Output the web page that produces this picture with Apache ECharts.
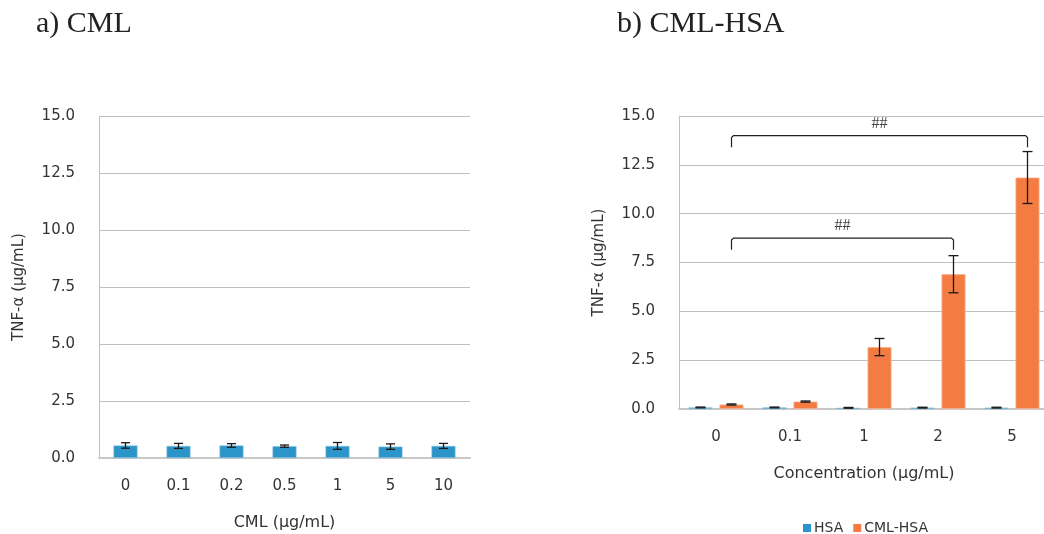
<!DOCTYPE html>
<html>
<head>
<meta charset="utf-8">
<script src="https://cdn.jsdelivr.net/npm/echarts@6/dist/echarts.min.js"></script>
<style>
  html, body { margin: 0; padding: 0; background: #fff; }
  #chart { width: 1044px; height: 534px; }
</style>
</head>
<body>
<div id="chart"></div>
<script>
// a) CML
const cmlCats = ['0', '0.1', '0.2', '0.5', '1', '5', '10']
const cmlVals = [0.55, 0.53, 0.55, 0.52, 0.53, 0.5, 0.53]
const cmlErr = [0.12, 0.11, 0.08, 0.05, 0.15, 0.12, 0.11]

// b) CML-HSA
const concCats = ['0', '0.1', '1', '2', '5']
const hsaVals = [0.08, 0.08, 0.06, 0.07, 0.07]
const hsaErr = [0.02, 0.02, 0.02, 0.02, 0.02]
const cmlHsaVals = [0.23, 0.38, 3.17, 6.9, 11.85]
const cmlHsaErr = [0.03, 0.03, 0.44, 0.95, 1.33]

// significance brackets: [from cat, to cat, leg bottom, top, label]
const brackets = [
  [0, 4, 13.4, 14.0, '##'],
  [0, 3, 8.15, 8.75, '##']
]

const BLUE = '#2b94c8'
const ORANGE = '#f47c42'
const TXT = '#333'
const FONT = 'DejaVu Sans'
const BAR_W = 24
const BAR_GAP_PX = 7

const chart = echarts.init(document.getElementById('chart'))

function errRender(offset, cap) {
  return function (params, api) {
    const x = api.value(0), v = api.value(1), e = api.value(2)
    const hi = api.coord([x, v + e])
    const lo = api.coord([x, v - e])
    const cx = hi[0] + offset
    const st = { stroke: '#1a1a1a', lineWidth: 1.3 }
    return {
      type: 'group',
      children: [
        { type: 'line', shape: { x1: cx, y1: hi[1], x2: cx, y2: lo[1] }, style: st },
        { type: 'line', shape: { x1: cx - cap, y1: hi[1], x2: cx + cap, y2: hi[1] }, style: st },
        { type: 'line', shape: { x1: cx - cap, y1: lo[1], x2: cx + cap, y2: lo[1] }, style: st }
      ]
    }
  }
}

function bracketRender(offset) {
  return function (params, api) {
    const a = api.coord([api.value(0), api.value(3)])
    const b = api.coord([api.value(1), api.value(3)])
    const bot = api.coord([api.value(0), api.value(2)])
    const x1 = a[0] + offset, x2 = b[0] + offset
    return {
      type: 'group',
      children: [
        {
          type: 'polyline',
          shape: { points: [[x1, bot[1]], [x1, a[1] + 2], [x1 + 2, a[1]], [x2 - 2, a[1]], [x2, a[1] + 2], [x2, bot[1]]] },
          style: { stroke: '#222', lineWidth: 1.2, fill: null }
        },
        {
          type: 'text',
          x: (x1 + x2) / 2, y: a[1] - 4,
          style: { text: api.value(4), font: '16px "Liberation Serif"', fill: '#444', align: 'center', verticalAlign: 'bottom' }
        }
      ]
    }
  }
}

const yAxisBase = {
  type: 'value', min: 0, max: 15, interval: 2.5,
  name: 'TNF-α (μg/mL)', nameLocation: 'middle', nameGap: 72,
  nameTextStyle: { fontFamily: FONT, fontSize: 15, color: TXT },
  axisLine: { show: true, lineStyle: { color: '#c0c0c0', width: 1 } },
  axisTick: { show: false },
  axisLabel: { fontFamily: FONT, fontSize: 15, color: TXT, margin: 24, formatter: v => v.toFixed(1) },
  splitLine: { lineStyle: { color: '#c0c0c0', width: 1 } }
}

const xAxisBase = {
  type: 'category', nameLocation: 'middle', nameGap: 57,
  nameTextStyle: { fontFamily: FONT, fontSize: 16, color: TXT },
  axisLine: { lineStyle: { color: '#c8c8c8', width: 2 } },
  axisTick: { show: false },
  axisLabel: { fontFamily: FONT, fontSize: 15, color: TXT, margin: 21 }
}

const offset = (BAR_W + BAR_GAP_PX) / 2
const titleStyle = { fontFamily: 'Liberation Serif', fontSize: 30, fontWeight: 'normal', color: '#222' }

chart.setOption({
  animation: false,
  title: [
    { text: 'a) CML', left: 31, top: 4, textStyle: titleStyle },
    { text: 'b) CML-HSA', left: 612, top: 4, textStyle: titleStyle }
  ],
  legend: {
    data: ['HSA', 'CML-HSA'],
    left: 798, top: 516,
    icon: 'rect', itemWidth: 8, itemHeight: 8, itemGap: 10,
    itemStyle: { borderWidth: 0 },
    textStyle: { fontFamily: FONT, fontSize: 14, color: TXT, padding: [0, 0, 0, -2] }
  },
  grid: [
    { left: 99, top: 116, width: 371, height: 342, outerBoundsMode: 'none' },
    { left: 679, top: 116, width: 370, height: 293, outerBoundsMode: 'none' }
  ],
  xAxis: [
    Object.assign({}, xAxisBase, { gridIndex: 0, data: cmlCats, name: 'CML (μg/mL)' }),
    Object.assign({}, xAxisBase, { gridIndex: 1, data: concCats, name: 'Concentration (μg/mL)' })
  ],
  yAxis: [
    Object.assign({}, yAxisBase, { gridIndex: 0 }),
    Object.assign({}, yAxisBase, { gridIndex: 1 })
  ],
  series: [
    {
      name: 'CML', type: 'bar', xAxisIndex: 0, yAxisIndex: 0, data: cmlVals, barWidth: BAR_W,
      itemStyle: { color: BLUE, borderColor: '#8cc6e2', borderWidth: 0.6 }
    },
    {
      type: 'custom', xAxisIndex: 0, yAxisIndex: 0, renderItem: errRender(0, 4.5),
      data: cmlVals.map((v, i) => [i, v, cmlErr[i]]), encode: { x: 0, y: 1 }, z: 5
    },
    {
      name: 'HSA', type: 'bar', xAxisIndex: 1, yAxisIndex: 1, data: hsaVals, barWidth: BAR_W,
      barGap: (BAR_GAP_PX / BAR_W * 100) + '%',
      itemStyle: { color: BLUE, borderColor: '#8cc6e2', borderWidth: 0.6 }
    },
    {
      name: 'CML-HSA', type: 'bar', xAxisIndex: 1, yAxisIndex: 1, data: cmlHsaVals, barWidth: BAR_W,
      barGap: (BAR_GAP_PX / BAR_W * 100) + '%',
      itemStyle: { color: ORANGE, borderColor: '#f9b38f', borderWidth: 0.8 }
    },
    {
      type: 'custom', xAxisIndex: 1, yAxisIndex: 1, renderItem: errRender(-offset, 5),
      data: hsaVals.map((v, i) => [i, v, hsaErr[i]]), encode: { x: 0, y: 1 }, z: 5
    },
    {
      type: 'custom', xAxisIndex: 1, yAxisIndex: 1, renderItem: errRender(offset, 5),
      data: cmlHsaVals.map((v, i) => [i, v, cmlHsaErr[i]]), encode: { x: 0, y: 1 }, z: 5
    },
    {
      type: 'custom', xAxisIndex: 1, yAxisIndex: 1, renderItem: bracketRender(offset),
      data: brackets, encode: { x: [0, 1], y: [2, 3] }, z: 6
    }
  ]
})
</script>
</body>
</html>
